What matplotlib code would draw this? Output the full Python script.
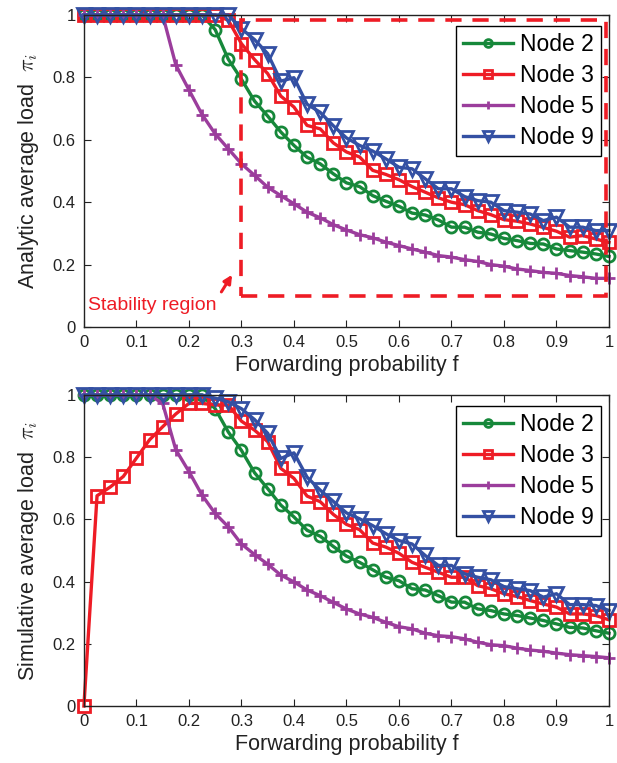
import matplotlib
matplotlib.use('Agg')
import matplotlib.pyplot as plt
from matplotlib.patches import Rectangle

plt.rcParams['font.family'] = ['Liberation Sans', 'DejaVu Sans']
plt.rcParams['mathtext.fontset'] = 'cm'

f = [0.0, 0.025, 0.05, 0.075, 0.1, 0.125, 0.15, 0.175, 0.2, 0.225,
     0.25, 0.275, 0.3, 0.325, 0.35, 0.375, 0.4, 0.425, 0.45, 0.475,
     0.5, 0.525, 0.55, 0.575, 0.6, 0.625, 0.65, 0.675, 0.7, 0.725,
     0.75, 0.775, 0.8, 0.825, 0.85, 0.875, 0.9, 0.925, 0.95, 0.975, 1.0]

labels = ['Node 2', 'Node 3', 'Node 5', 'Node 9']

# analytic load (top panel)
ana_node2 = [1.0, 1.0, 1.0, 1.0, 1.0, 1.0, 1.0, 1.0, 1.0, 1.0,
             0.953, 0.858, 0.794, 0.724, 0.676, 0.625, 0.582, 0.544, 0.523, 0.491,
             0.462, 0.450, 0.421, 0.403, 0.387, 0.365, 0.359, 0.343, 0.320, 0.320,
             0.304, 0.298, 0.284, 0.277, 0.268, 0.266, 0.250, 0.245, 0.240, 0.234, 0.226]
ana_node3 = [1.0, 1.0, 1.0, 1.0, 1.0, 1.0, 1.0, 1.0, 1.0, 1.0,
             1.0, 0.983, 0.908, 0.857, 0.812, 0.740, 0.705, 0.646, 0.635, 0.590,
             0.561, 0.545, 0.502, 0.489, 0.472, 0.450, 0.432, 0.414, 0.400, 0.392,
             0.373, 0.360, 0.344, 0.339, 0.330, 0.319, 0.307, 0.288, 0.293, 0.282, 0.271]
ana_node5 = [1.0, 1.0, 1.0, 1.0, 1.0, 1.0, 1.0, 0.840, 0.760, 0.681,
             0.619, 0.571, 0.523, 0.486, 0.448, 0.421, 0.395, 0.368, 0.350, 0.328,
             0.311, 0.296, 0.286, 0.272, 0.261, 0.250, 0.240, 0.229, 0.224, 0.216,
             0.210, 0.200, 0.195, 0.186, 0.181, 0.175, 0.172, 0.165, 0.161, 0.156, 0.156]
ana_node9 = [1.0, 1.0, 1.0, 1.0, 1.0, 1.0, 1.0, 1.0, 1.0, 1.0,
             1.0, 1.0, 0.956, 0.921, 0.876, 0.788, 0.799, 0.714, 0.688, 0.645,
             0.606, 0.582, 0.564, 0.539, 0.512, 0.507, 0.475, 0.443, 0.443, 0.418,
             0.405, 0.400, 0.373, 0.368, 0.362, 0.341, 0.352, 0.320, 0.320, 0.309, 0.309]

# simulated load (bottom panel)
sim_node2 = [1.0, 1.0, 1.0, 1.0, 1.0, 1.0, 1.0, 1.0, 1.0, 1.0,
             0.956, 0.881, 0.822, 0.750, 0.699, 0.646, 0.608, 0.565, 0.546, 0.513,
             0.482, 0.462, 0.438, 0.414, 0.403, 0.377, 0.373, 0.355, 0.334, 0.334,
             0.312, 0.307, 0.296, 0.291, 0.283, 0.275, 0.264, 0.253, 0.251, 0.242, 0.234]
sim_node3 = [0.0, 0.676, 0.704, 0.738, 0.797, 0.856, 0.898, 0.939, 0.973, 0.973,
             0.968, 0.968, 0.916, 0.887, 0.850, 0.764, 0.732, 0.675, 0.657, 0.616,
             0.584, 0.567, 0.524, 0.511, 0.491, 0.462, 0.446, 0.430, 0.414, 0.414,
             0.387, 0.377, 0.361, 0.352, 0.339, 0.328, 0.318, 0.296, 0.296, 0.291, 0.277]
sim_node5 = [1.0, 1.0, 1.0, 1.0, 1.0, 1.0, 0.973, 0.824, 0.754, 0.678,
             0.619, 0.576, 0.521, 0.487, 0.456, 0.421, 0.399, 0.373, 0.355, 0.333,
             0.312, 0.296, 0.285, 0.269, 0.255, 0.248, 0.234, 0.226, 0.223, 0.216,
             0.205, 0.197, 0.194, 0.186, 0.180, 0.176, 0.170, 0.165, 0.162, 0.159, 0.155]
sim_node9 = [1.0, 1.0, 1.0, 1.0, 1.0, 1.0, 1.0, 1.0, 1.0, 1.0,
             0.990, 0.978, 0.956, 0.921, 0.877, 0.796, 0.814, 0.736, 0.694, 0.658,
             0.621, 0.602, 0.580, 0.554, 0.532, 0.521, 0.484, 0.452, 0.452, 0.425,
             0.414, 0.406, 0.384, 0.377, 0.371, 0.350, 0.361, 0.326, 0.326, 0.323, 0.307]

xticks = [0, 0.1, 0.2, 0.3, 0.4, 0.5, 0.6, 0.7, 0.8, 0.9, 1]
xtick_labels = ['0', '0.1', '0.2', '0.3', '0.4', '0.5', '0.6', '0.7', '0.8', '0.9', '1']
yticks = [0, 0.2, 0.4, 0.6, 0.8, 1]
ytick_labels = ['0', '0.2', '0.4', '0.6', '0.8', '1']

colors = ['#16883a', '#ee1c25', '#9b3d9c', '#3450a3']
markers = ['o', 's', '+', 'v']
msizes = [8, 8, 8.5, 9.5]


def plot_panel(ax, series):
    for values, color, marker, ms, label in zip(series, colors, markers, msizes, labels):
        ax.plot(f, values, color=color, lw=2.4, marker=marker, ms=ms, mew=2.0,
                mfc='none', mec=color, label=label, clip_on=False, zorder=3)
    leg = ax.legend(loc='upper right', bbox_to_anchor=(0.985, 0.965), borderaxespad=0,
                    fontsize=16.5, handlelength=2.2, handletextpad=0.3, labelspacing=0.35,
                    markerscale=0.7, fancybox=False, framealpha=1, borderpad=0.3)
    leg.get_frame().set_edgecolor('black')
    leg.get_frame().set_linewidth(1.0)
    leg.set_zorder(5)
    return ax


def format_axis(ax, ylabel):
    ax.set_xlim(0, 1)
    ax.set_ylim(0, 1)
    ax.set_xticks(xticks)
    ax.set_xticklabels(xtick_labels)
    ax.set_yticks(yticks)
    ax.set_yticklabels(ytick_labels)
    ax.tick_params(direction='in', top=True, right=True, length=5, width=0.8,
                   labelsize=12, pad=6, colors='#222222')
    for sp in ax.spines.values():
        sp.set_linewidth(1.0)
        sp.set_color('#222222')
        sp.set_zorder(4)
    ax.set_xlabel('Forwarding probability f', fontsize=15.5, labelpad=3, color='#222222')
    ax.set_ylabel(ylabel, fontsize=15.5, labelpad=8, color='#222222')
    return ax


fig = plt.figure(figsize=(6.17, 7.63), dpi=100)
ax_top = fig.add_axes([0.136, 0.5714, 0.851, 0.409])
ax_bot = fig.add_axes([0.136, 0.0747, 0.851, 0.4076])

plot_panel(ax_top, [ana_node2, ana_node3, ana_node5, ana_node9])
format_axis(ax_top, 'Analytic average load  $\\pi_i$')

# stability region box
ax_top.add_patch(Rectangle((0.3, 0.1), 0.695, 0.885, fill=False, ec='#ee1c25', lw=2.6,
                           ls=(0, (4.5, 3)), clip_on=False, zorder=6))
ax_top.annotate('', xy=(0.285, 0.175), xytext=(0.259, 0.105),
                arrowprops=dict(arrowstyle='-|>', color='#ee1c25', lw=2.2, mutation_scale=12))
ax_top.text(0.13, 0.068, 'Stability region', color='#ee1c25', fontsize=14,
            ha='center', va='center')

plot_panel(ax_bot, [sim_node2, sim_node3, sim_node5, sim_node9])
format_axis(ax_bot, 'Simulative average load  $\\pi_i$')

fig.savefig('out.png', dpi=100)
